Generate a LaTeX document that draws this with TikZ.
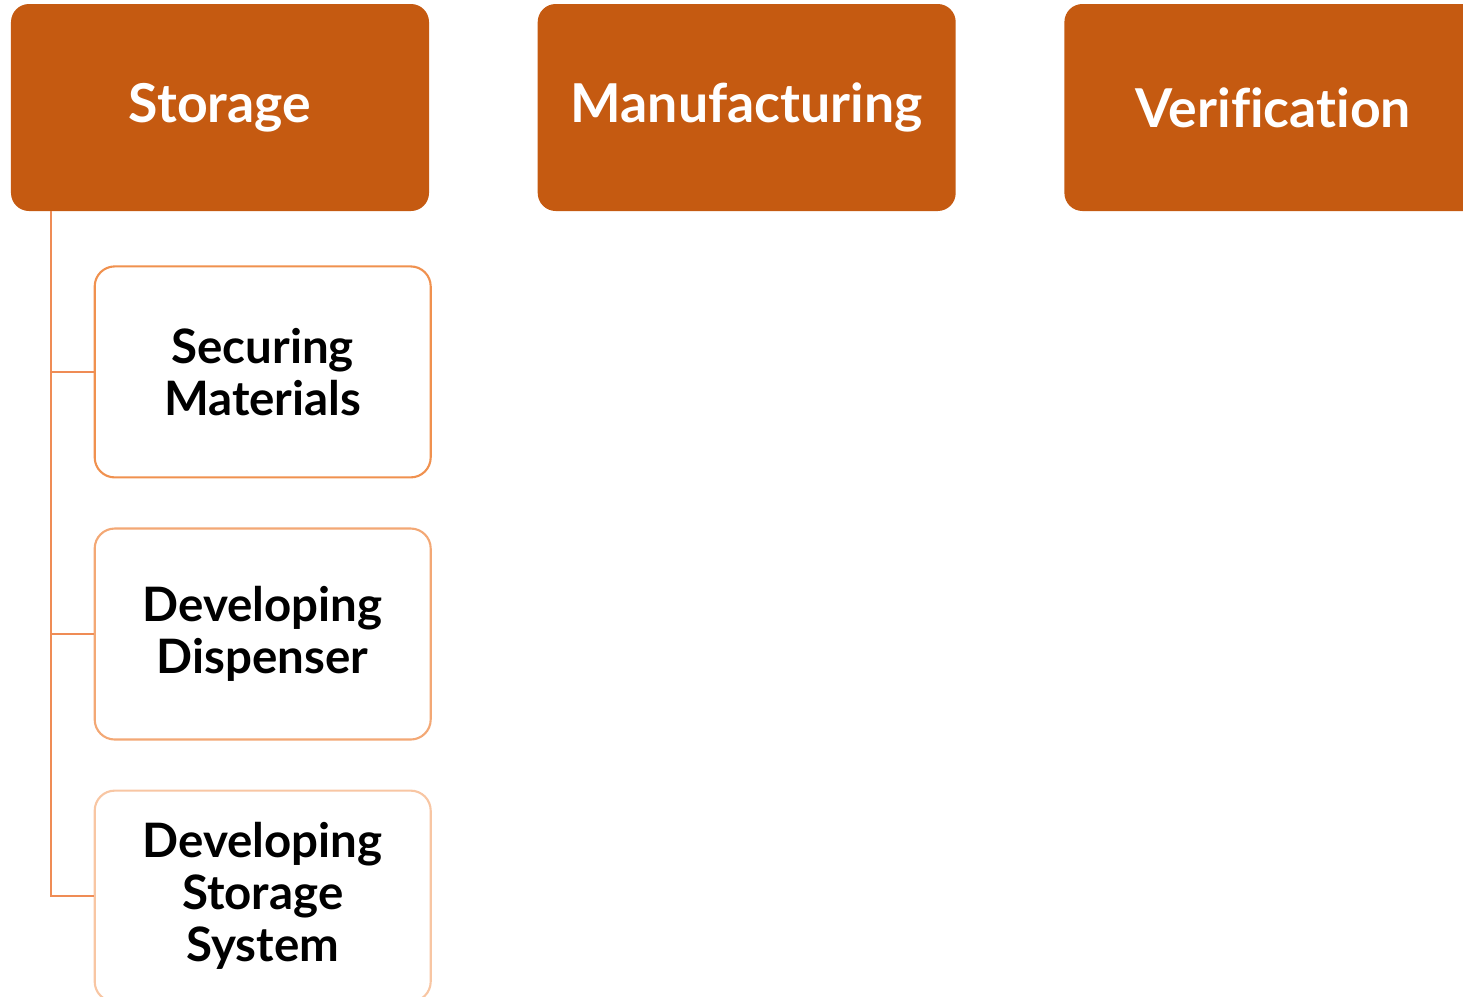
\documentclass[tikz,border=0pt]{standalone}
\usepackage{fontspec}
\setmainfont{Lato}[Ligatures=CommonOff]
\usetikzlibrary{positioning}
\definecolor{burntorange}{HTML}{C55A11}
\definecolor{lineorange}{HTML}{EF8C55}
\definecolor{subone}{HTML}{F0914F}
\definecolor{subtwo}{HTML}{F3A875}
\definecolor{subthree}{HTML}{F8C6A3}

\begin{document}
\begin{tikzpicture}[node distance=2.16cm]
\tikzstyle{head} = [rectangle, rounded corners=0.36cm, minimum width=8.36cm, minimum height=4.14cm, text centered, fill=burntorange, text=white, font=\fontsize{30.5}{36}\selectfont\bfseries]
\tikzstyle{sub} = [rectangle, rounded corners=0.4cm, minimum width=6.72cm, minimum height=4.22cm, align=center, line width=1.2pt, fill=white, font=\fontsize{27}{29.5}\selectfont\bfseries]

\useasboundingbox (0,0) rectangle (29.26,-19.94);

\node (storage) [head] at (4.4,-2.15) {Storage};
\node (manuf) [head, right=of storage] {Manufacturing};
\node (verif) [head, right=of manuf] {Verification};

\node (sub1) [sub, draw=subone, anchor=north west] at ([xshift=1.66cm, yshift=-1.08cm]storage.south west) {Securing\\Materials};
\node (sub2) [sub, draw=subtwo, below=0.98cm of sub1] {Developing\\Dispenser};
\node (sub3) [sub, draw=subthree, below=0.98cm of sub2] {Developing\\Storage\\System};

\coordinate (spine) at ([xshift=0.8cm]storage.south west);
\draw[lineorange, line width=1.2pt] (spine) |- (sub1.west);
\draw[lineorange, line width=1.2pt] (spine) |- (sub2.west);
\draw[lineorange, line width=1.2pt] (spine) |- (sub3.west);

\end{tikzpicture}
\end{document}
